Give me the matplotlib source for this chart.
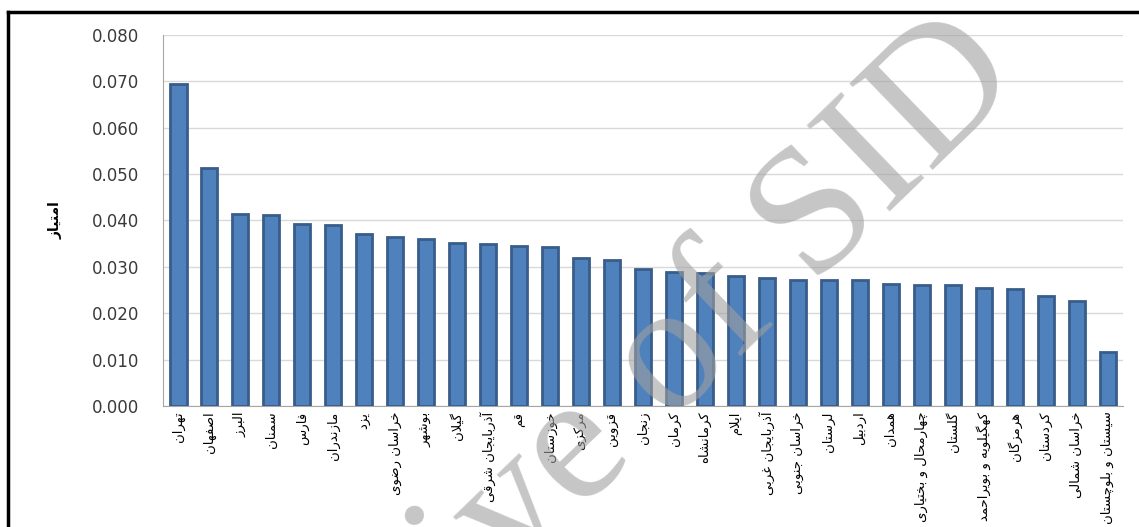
import numpy as np
import matplotlib
matplotlib.use('Agg')
import matplotlib.pyplot as plt
from matplotlib.lines import Line2D

# province names (Persian) and scores
provinces = ['تهران', 'اصفهان', 'البرز', 'سمنان', 'فارس', 'مازندران', 'یزد',
             'خراسان رضوی', 'بوشهر', 'گیلان', 'آذربایجان شرقی', 'قم', 'خوزستان',
             'مرکزی', 'قزوین', 'زنجان', 'کرمان', 'کرمانشاه', 'ایلام',
             'آذربایجان غربی', 'خراسان جنوبی', 'لرستان', 'اردبیل', 'همدان',
             'چهارمحال و بختیاری', 'گلستان', 'کهگیلویه و بویراحمد', 'هرمزگان',
             'کردستان', 'خراسان شمالی', 'سیستان و بلوچستان']
scores = [0.0695, 0.0513, 0.0414, 0.0411, 0.0393, 0.0391, 0.0371, 0.0365,
          0.0360, 0.0352, 0.0349, 0.0344, 0.0342, 0.0319, 0.0315, 0.0295,
          0.0288, 0.0287, 0.0281, 0.0275, 0.0271, 0.0271, 0.0271, 0.0262,
          0.0261, 0.0261, 0.0254, 0.0253, 0.0237, 0.0227, 0.0117]
y_label = 'امتیاز'
y_ticks = [0.000, 0.010, 0.020, 0.030, 0.040, 0.050, 0.060, 0.070, 0.080]

# --- minimal Persian shaping (matplotlib has no bidi / joining support) ---
# letter: (isolated, final, initial, medial) ; right-joining letters have 2 forms
FORMS = {
    'ا': (0xFE8D, 0xFE8E), 'آ': (0xFE81, 0xFE82),
    'د': (0xFEA9, 0xFEAA), 'ذ': (0xFEAB, 0xFEAC), 'ر': (0xFEAD, 0xFEAE),
    'ز': (0xFEAF, 0xFEB0), 'ژ': (0xFB8A, 0xFB8B), 'و': (0xFEED, 0xFEEE),
    'ب': (0xFE8F, 0xFE90, 0xFE91, 0xFE92), 'پ': (0xFB56, 0xFB57, 0xFB58, 0xFB59),
    'ت': (0xFE95, 0xFE96, 0xFE97, 0xFE98), 'ث': (0xFE99, 0xFE9A, 0xFE9B, 0xFE9C),
    'ج': (0xFE9D, 0xFE9E, 0xFE9F, 0xFEA0), 'چ': (0xFB7A, 0xFB7B, 0xFB7C, 0xFB7D),
    'ح': (0xFEA1, 0xFEA2, 0xFEA3, 0xFEA4), 'خ': (0xFEA5, 0xFEA6, 0xFEA7, 0xFEA8),
    'س': (0xFEB1, 0xFEB2, 0xFEB3, 0xFEB4), 'ش': (0xFEB5, 0xFEB6, 0xFEB7, 0xFEB8),
    'ص': (0xFEB9, 0xFEBA, 0xFEBB, 0xFEBC), 'ض': (0xFEBD, 0xFEBE, 0xFEBF, 0xFEC0),
    'ط': (0xFEC1, 0xFEC2, 0xFEC3, 0xFEC4), 'ظ': (0xFEC5, 0xFEC6, 0xFEC7, 0xFEC8),
    'ع': (0xFEC9, 0xFECA, 0xFECB, 0xFECC), 'غ': (0xFECD, 0xFECE, 0xFECF, 0xFED0),
    'ف': (0xFED1, 0xFED2, 0xFED3, 0xFED4), 'ق': (0xFED5, 0xFED6, 0xFED7, 0xFED8),
    'ک': (0xFB8E, 0xFB8F, 0xFB90, 0xFB91), 'گ': (0xFB92, 0xFB93, 0xFB94, 0xFB95),
    'ل': (0xFEDD, 0xFEDE, 0xFEDF, 0xFEE0), 'م': (0xFEE1, 0xFEE2, 0xFEE3, 0xFEE4),
    'ن': (0xFEE5, 0xFEE6, 0xFEE7, 0xFEE8), 'ه': (0xFEE9, 0xFEEA, 0xFEEB, 0xFEEC),
    'ی': (0xFBFC, 0xFBFD, 0xFBFE, 0xFBFF),
}
LAM_ALEF = {'ا': (0xFEFB, 0xFEFC), 'آ': (0xFEF5, 0xFEF6)}


def shape(text):
    out = []
    i = 0
    n = len(text)
    while i < n:
        c = text[i]
        if c not in FORMS:
            out.append(c)
            i += 1
            continue
        prev = text[i - 1] if i > 0 else ''
        joins_prev = prev in FORMS and len(FORMS[prev]) == 4
        if c == 'ل' and i + 1 < n and text[i + 1] in LAM_ALEF:
            lig = LAM_ALEF[text[i + 1]]
            out.append(chr(lig[1] if joins_prev else lig[0]))
            i += 2
            continue
        f = FORMS[c]
        nxt = text[i + 1] if i + 1 < n else ''
        joins_next = len(f) == 4 and nxt in FORMS
        if joins_prev and joins_next:
            out.append(chr(f[3]))
        elif joins_prev:
            out.append(chr(f[1]))
        elif joins_next:
            out.append(chr(f[2]))
        else:
            out.append(chr(f[0]))
        i += 1
    return ''.join(out)[::-1]


plt.rcParams['font.family'] = ['DejaVu Sans']

fig = plt.figure(figsize=(11.39, 5.27), dpi=100)
ax = fig.add_axes([0.1431, 0.2296, 0.8429, 0.704])

x = np.arange(len(provinces))
ax.bar(x, scores, width=0.52, color='#4F81BD', edgecolor='#385D8A',
       linewidth=2.0, zorder=3)

ax.set_xlim(-0.5, len(provinces) - 0.5)
ax.set_ylim(0, 0.08)
ax.set_yticks(y_ticks)
ax.set_yticklabels(['%.3f' % v for v in y_ticks], fontsize=12, color='#3a3a3a')
ax.set_xticks(x)
ax.set_xticklabels([shape(p) for p in provinces], rotation=90, fontsize=9.5,
                   va='top', ha='center', color='black')
ax.tick_params(axis='y', length=0, pad=17)
ax.tick_params(axis='x', length=0, pad=4)

ax.yaxis.grid(True, color='#D9D9D9', linewidth=1.0, zorder=0)
ax.set_axisbelow(True)
for s in ['top', 'right']:
    ax.spines[s].set_visible(False)
ax.spines['left'].set_color('#A6A6A6')
ax.spines['bottom'].set_color('#A6A6A6')

ax.set_ylabel(shape(y_label), fontsize=10, fontweight='bold', rotation=90)
ax.yaxis.set_label_coords(-0.105, 0.5)

# outer frame of the original figure (top and left edges only are visible)
top_y = 1 - 12 / 527
left_x = 8 / 1139
fig.add_artist(Line2D([left_x, 1.0], [top_y, top_y], transform=fig.transFigure,
                      color='black', linewidth=2.5))
fig.add_artist(Line2D([left_x, left_x], [0.0, top_y], transform=fig.transFigure,
                      color='black', linewidth=2.5))

# archive watermark
fig.text(0.516, 0.16, 'Archive of SID', fontsize=132, family='Liberation Serif',
         color='#a0a0a0', alpha=0.6, rotation=44, rotation_mode='anchor',
         ha='center', va='center', zorder=10)

fig.savefig('out.png', dpi=100)
